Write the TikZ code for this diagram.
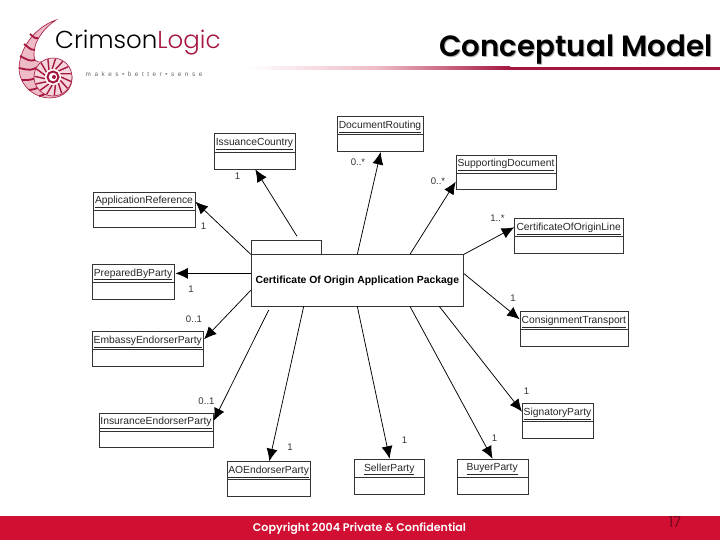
\documentclass[tikz,border=0pt]{standalone}
\usepackage{fontspec}
\usetikzlibrary{arrows.meta,calc}
\setmainfont{Liberation Sans}
\newfontfamily\gothicfont{Poppins SemiBold}
\newfontfamily\thinfont{Poppins Light}
\newfontfamily\logofont{Poppins Light}
\newfontfamily\tagfont[LetterSpace=55]{Liberation Sans}

\definecolor{crimson}{HTML}{D00F33}
\definecolor{darkcrimson}{HTML}{A5173F}
\definecolor{shellpink}{HTML}{EDBAC5}

\tikzset{
    classbox/.style={draw=black!80, line width=0.7pt, anchor=north west, inner sep=0pt},
    classlabel/.style={anchor=center, inner sep=0pt, text=black!85, font=\fontsize{10.3}{12}\selectfont},
    mult/.style={inner sep=0pt, text=black!80, font=\fontsize{9.6}{11}\selectfont},
    assoc/.style={line width=0.75pt, -{Latex[length=12.5pt, width=11pt]}},
}

\begin{document}
\begin{tikzpicture}[x=1pt, y=-1pt]
    \useasboundingbox (0, 0) rectangle (720, 540);

    % Logo
    \begin{scope}
        \fill[shellpink, draw=darkcrimson, line width=0.6pt] (56, 20)
            .. controls (38, 26) and (20, 45) .. (19, 68)
            .. controls (19, 85) and (34, 98) .. (50, 98)
            .. controls (64, 98) and (73, 88) .. (72, 77)
            .. controls (71, 66) and (62, 59) .. (52, 60)
            .. controls (44, 61) and (38, 64) .. (35, 60)
            .. controls (31, 50) and (38, 32) .. (56, 20) -- cycle;
        \foreach \xa/\ya/\xb/\yb in {30/34/38/38, 24/44/35/50, 20/56/35/60,
            19/68/38/67, 22/80/40/74, 29/90/44/81, 39/96/48/87} {
            \draw[darkcrimson, line width=1.8pt] (\xa, \ya) .. controls ({(\xa + \xb) / 2 + 2}, {(\ya + \yb) / 2 + 3}) .. (\xb, \yb);
        }
        \fill[shellpink!60, draw=darkcrimson, line width=0.6pt] (53, 77) circle (19);
        \foreach \a in {0, 24, ..., 336} {
            \draw[darkcrimson, line width=1.4pt] ($(53, 77) + (\a:8)$) -- ($(53, 77) + (\a + 14:18.5)$);
        }
        \fill[white] (53, 77) circle (8);
        \draw[darkcrimson, line width=2pt] (53, 77) circle (5.5);
        \fill[darkcrimson] (54, 77) circle (2);
        \node[anchor=base west, inner sep=0pt, font=\logofont\fontsize{24.5}{27}\selectfont] (logoname) at (55, 48.5)
        {Crimson\textcolor{darkcrimson}{Logic}};
        \node[anchor=base west, inner sep=0pt, text=black!60, font=\tagfont\fontsize{6.4}{7}\selectfont] (logotag) at (85.5, 77)
        {makes\textbullet better\textbullet sense};
    \end{scope}

    % Title and rule
    \shade[left color=white, right color=darkcrimson, middle color=shellpink] (248, 67) rectangle (510, 70);
    \fill[darkcrimson] (508, 67) rectangle (720, 70);
    \node[anchor=base east, inner sep=0pt, text=black!30, font=\gothicfont\fontsize{29.3}{32}\selectfont] (titleshadow) at (713.5, 57.5)
    {Conceptual Model};
    \node[anchor=base east, inner sep=0pt, font=\gothicfont\fontsize{29.3}{32}\selectfont] (title) at (712.5, 56.5)
    {Conceptual Model};

    % Classes
    \foreach \id/\l/\t/\r/\b/\d/\name in {
        issuance/214.3/133.3/294.7/168.7/152.3/IssuanceCountry,
        appref/93.3/191.7/194.7/226.7/210/ApplicationReference,
        prepared/92.3/263.7/173.7/298.7/282.3/PreparedByParty,
        docrouting/337.3/116/422.7/151.3/134.3/DocumentRouting,
        supporting/455.7/154.7/556.3/189.3/173/SupportingDocument,
        certline/514.3/218.3/623/253.3/236.7/CertificateOfOriginLine,
        consign/519.7/311.3/628/346.3/329.3/ConsignmentTransport,
        embassy/92.3/331.3/203.3/366/349.7/EmbassyEndorserParty,
        insurance/99/412.7/213/447.3/431/InsuranceEndorserParty,
        aoparty/227/461.3/310.3/496/479.7/AOEndorserParty,
        seller/354.3/458.7/424.3/493.7/477.3/SellerParty,
        buyer/456.7/458.7/527.7/493.7/477.3/BuyerParty,
        signatory/522/403/593/438/421.7/SignatoryParty} {
        \node[classbox, minimum width={(\r - \l) * 1pt}, minimum height={(\b - \t) * 1pt}] (\id) at (\l, \t) {};
        \draw[black!80, line width=0.9pt] (\l, \d) -- (\r, \d);
        \node[classlabel] (\id-label) at ({(\l + \r) / 2}, {(\t + \d) / 2 + 1.4}) {\underline{\name}};
    }

    % Package
    \node[classbox, minimum width=70.6pt, minimum height=14pt] (pkgtab) at (250.7, 240.3) {};
    \node[classbox, fill=white, minimum width=212.6pt, minimum height=51.4pt] (pkg) at (250.7, 254.3) {};
    \node[inner sep=0pt, font=\bfseries\fontsize{10.4}{12}\selectfont] (pkg-label) at (pkg.center)
    {Certificate Of Origin Application Package};

    % Connectors
    \coordinate (issuance-end) at (297, 236.3);
    \coordinate (insurance-end) at (268.7, 310);
    \draw[assoc] (issuance-end) -- ([xshift=41pt]issuance.south west);
    \draw[assoc] (pkg.north west) -- ([yshift=-10pt]appref.north east);
    \draw[assoc] ([yshift=7pt]pkg.west) -- ([xshift=1pt, yshift=8.2pt]prepared.east);
    \draw[assoc] ([yshift=-10pt]pkg.west) -- ([yshift=-8pt]embassy.north east);
    \draw[assoc] (insurance-end) -- ([yshift=-8pt]insurance.north east);
    \draw[assoc] ([xshift=53pt]pkg.south west) -- ([xshift=42.3pt]aoparty.north west);
    \draw[assoc] ([xshift=106.6pt]pkg.south west) -- (seller.north);
    \draw[assoc] ([xshift=159.3pt]pkg.south west) -- (buyer.north);
    \draw[assoc] ([xshift=188.6pt]pkg.south west) -- ([yshift=-8.7pt]signatory.north west);
    \draw[assoc] ([yshift=6.7pt]pkg.east) -- ([yshift=-8pt]consign.north west);
    \draw[assoc] (pkg.north east) -- ([yshift=-9pt]certline.north west);
    \draw[assoc] ([xshift=159.3pt]pkg.north west) -- ([yshift=-27pt]supporting.north west);
    \draw[assoc] ([xshift=106.6pt]pkg.north west) -- ([xshift=43.4pt]docrouting.south west);

    % Multiplicities
    \foreach \id/\x/\y/\txt in {
        m1/237.5/176.5/1, m2/203.5/226.5/1, m3/191/289.5/1,
        m4/194/319/0..1, m5/206.5/401/0..1, m6/290/447/1,
        m7/404.5/440/1, m8/494.5/438.5/1, m9/526.5/391.5/1,
        m10/513/298.5/1, m11/497.5/218.5/1..*, m12/438/181/0..*,
        m13/358/162.5/0..*} {
        \node[mult] (\id) at (\x, \y) {\txt};
    }

    % Footer
    \fill[crimson] (0, 516) rectangle (720, 540);
    \node[inner sep=0pt, text=white, font=\gothicfont\fontsize{11.1}{13}\selectfont] (footer) at (359.5, 528.5)
    {Copyright 2004 Private \& Confidential};
    \node[inner sep=0pt, text=black!55!crimson, font=\thinfont\fontsize{15}{17}\selectfont] (pagenum) at (675, 522) {17};
\end{tikzpicture}
\end{document}
